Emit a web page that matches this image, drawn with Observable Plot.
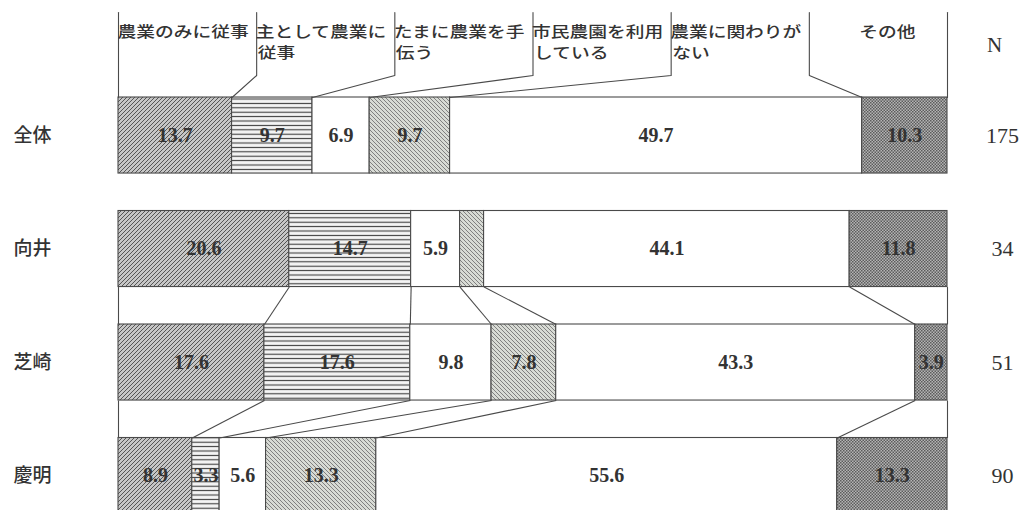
<!DOCTYPE html>
<html><head><meta charset="utf-8">
<script src="https://cdn.jsdelivr.net/npm/d3@7"></script>
<script src="https://cdn.jsdelivr.net/npm/@observablehq/plot@0.6"></script>
<style>body{margin:0;background:#fff}</style>
</head><body><div id="chart"></div>
<script>
// ---- data ----
const categories = ["農業のみに従事","主として農業に従事","たまに農業を手伝う","市民農園を利用している","農業に関わりがない","その他"];
const headerLine1 = ["農業のみに従事","主として農業に","たまに農業を手","市民農園を利用","農業に関わりが","その他"];
const headerLine2 = ["","従事","伝う","している","ない",""];
const groups = ["全体","向井","芝崎","慶明"];
const nValues = [175, 34, 51, 90];
const zentai    = [13.7, 9.7, 6.9, 9.7, 49.7, 10.3];
const mukai     = [20.6, 14.7, 5.9, 2.9, 44.1, 11.8];
const shibasaki = [17.6, 17.6, 9.8, 7.8, 43.3, 3.9];
const keimei    = [8.9, 3.3, 5.6, 13.3, 55.6, 13.3];
const unlabeled = [["向井", 3]];   // segment drawn without a number
const connectedGaps = [[1, 2], [2, 3]]; // rows joined by boundary lines

// ---- layout / style ----
const BAR = 0.67;
const LEAD_TOP = -0.749, LEAD_BEND = -0.194;
const HEAD1 = -0.575, HEAD2 = -0.388, NHEAD = -0.46;
const HSCALE = 1.25;
const patterns = ["url(#p0)","url(#p1)","white","url(#p3)","white","url(#p5)"];
const LINE = "#4a4a4a";

const rowsVals = [zentai, mukai, shibasaki, keimei];
const cums = rowsVals.map(vals => { const c=[0]; vals.forEach(v => c.push(c[c.length-1]+v)); c[c.length-1]=100; return c; });
const segs = [];
rowsVals.forEach((vals, r) => vals.forEach((v, k) => segs.push({
  row: r, k, v, x1: cums[r][k], x2: cums[r][k+1],
  labeled: !unlabeled.some(([g, kk]) => g === groups[r] && kk === k)
})));
const links = [];
connectedGaps.forEach(([a, b]) => cums[a].forEach((c, k) => links.push({x1: c, y1: a + BAR, x2: cums[b][k], y2: b})));
const leaders = [];
cums[0].forEach((c, k) => {
  const col = k * 100 / 6;
  leaders.push({k, x: col, y: LEAD_TOP}, {k, x: col, y: LEAD_BEND}, {k, x: c, y: 0});
});
const heads = headerLine1.map((t, i) => ({i, t, t2: headerLine2[i], col: i * 100 / 6}));

const headFont = {fontFamily: "Noto Sans CJK JP", fontSize: 15, fontWeight: 500, fill: "#333",
  style: {letterSpacing: "0.5px"}};
const marks = [];
categories.forEach((cat, k) => marks.push(Plot.rect(segs.filter(d => d.k === k), {
  x1: "x1", x2: "x2", y1: d => d.row, y2: d => d.row + BAR,
  fill: patterns[k], stroke: LINE, strokeWidth: 1.1
})));
marks.push(
  Plot.link(links, {x1: "x1", y1: "y1", x2: "x2", y2: "y2", stroke: LINE, strokeWidth: 1.1}),
  Plot.line(leaders, {x: "x", y: "y", z: "k", stroke: LINE, strokeWidth: 1.1}),
  Plot.text(segs.filter(d => d.labeled), {
    x: d => (d.x1 + d.x2) / 2, y: d => d.row + BAR / 2, text: d => d.v.toFixed(1),
    fontFamily: "Liberation Serif", fontWeight: "bold", fontSize: 20, fill: "#333"
  }),
  Plot.text(heads.filter(d => d.i < 5), {x: "col", y: () => HEAD1, text: "t", textAnchor: "start", dx: -1, ...headFont}),
  Plot.text(heads.filter(d => d.t2), {x: "col", y: () => HEAD2, text: "t2", textAnchor: "start", dx: 1, ...headFont}),
  Plot.text(heads.filter(d => d.i === 5), {x: d => d.col + 50 / 6, y: () => HEAD1, text: "t", dx: 9, ...headFont}),
  Plot.text(["N"], {x: 100, y: NHEAD, text: d => d, dx: 47,
    fontFamily: "Liberation Serif", fontSize: 21, fill: "#333"}),
  Plot.text(groups, {x: 0, y: (d, i) => i + BAR / 2, text: d => d, dx: -86,
    fontFamily: "Noto Sans CJK JP", fontWeight: 500, fontSize: 19, fill: "#333", style: {letterSpacing: "1px"}}),
  Plot.text(nValues, {x: 100, y: (d, i) => i + BAR / 2, text: d => String(d), dx: 55,
    fontFamily: "Liberation Serif", fontSize: 22, fill: "#333"})
);

const chart = Plot.plot({
  width: 1027, height: 510,
  marginLeft: 118, marginRight: 80, marginTop: 0, marginBottom: 0,
  x: {domain: [0, 100], axis: null},
  y: {type: "linear", domain: [0, 4], range: [97, 551], axis: null},
  style: {background: "white"},
  marks
});

// widen the header glyphs horizontally, as in the scanned original
const headerTexts = new Set([...headerLine1, ...headerLine2.filter(Boolean)]);
chart.querySelectorAll("text").forEach(t => {
  if (!headerTexts.has(t.textContent)) return;
  const tr = t.getAttribute("transform");
  if (tr) t.setAttribute("transform", `${tr} scale(${HSCALE},1)`);
});

const ns = "http://www.w3.org/2000/svg";
const defs = document.createElementNS(ns, "defs");
defs.innerHTML = `
<pattern id="p0" patternUnits="userSpaceOnUse" width="4" height="4">
  <rect width="4" height="4" fill="#c6c6c6"/>
  <path d="M-1,1 l2,-2 M0,4 l4,-4 M3,5 l2,-2" stroke="#555" stroke-width="1"/>
</pattern>
<pattern id="p1" patternUnits="userSpaceOnUse" width="4" height="4.4">
  <rect width="4" height="4.4" fill="#f4f4f4"/>
  <line x1="0" x2="4" y1="2.2" y2="2.2" stroke="#3a3a3a" stroke-width="1.1"/>
</pattern>
<pattern id="p3" patternUnits="userSpaceOnUse" width="4" height="4">
  <rect width="4" height="4" fill="#d8dbd5"/>
  <path d="M-1,3 l2,2 M0,0 l4,4 M3,-1 l2,2" stroke="#767676" stroke-width="0.9"/>
</pattern>
<pattern id="p5" patternUnits="userSpaceOnUse" width="3" height="3">
  <rect width="3" height="3" fill="#b4b4b4"/>
  <rect width="1.5" height="1.5" fill="#5c5c5c"/>
  <rect x="1.5" y="1.5" width="1.5" height="1.5" fill="#5c5c5c"/>
</pattern>`;
chart.insertBefore(defs, chart.firstChild);
document.getElementById("chart").appendChild(chart);
</script>
</body></html>
